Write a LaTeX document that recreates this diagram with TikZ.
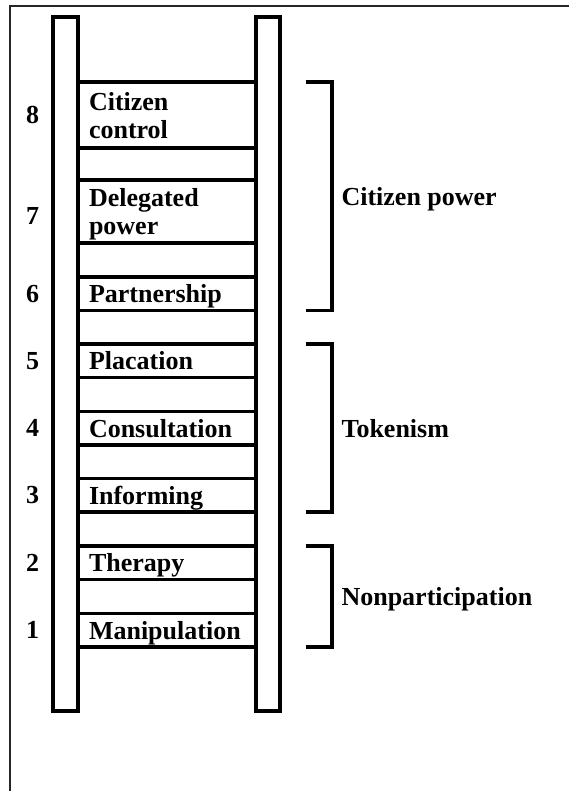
\documentclass[tikz,border=0pt]{standalone}
\usepackage{fontspec}
\setmainfont{Liberation Serif}
\usetikzlibrary{positioning,calc}

\begin{document}
\begin{tikzpicture}[
    x=1pt, y=1pt,
    node distance=33.8pt,
    frame/.style={line width=1.5pt, black!85},
    rail/.style={draw, line width=4pt},
    stepbox/.style={draw, rectangle, line width=3.5pt, outer sep=0pt, text width=156pt, inner xsep=11pt, inner ysep=0pt,
        minimum height=33.5pt, align=left, text depth=0pt, font=\bfseries\fontsize{26}{28}\selectfont},
    num/.style={font=\bfseries\fontsize{26}{28}\selectfont},
    bracket/.style={line width=3.5pt},
    group/.style={anchor=west, xshift=6pt, text depth=0pt, font=\bfseries\fontsize{26}{28}\selectfont}
]
\useasboundingbox (0,0) rectangle (568,-791);

% Rahmen
\draw[frame] (575,-6) -- (10,-6) -- (10,-800);

% Sprossen
\node[stepbox, minimum height=66pt, text depth=28pt, anchor=north west] (s8) at (78,-82) {Citizen\\control};
\node[stepbox, minimum height=63pt, text depth=28pt, below=32pt of s8] (s7) {Delegated\\power};
\node[stepbox, below=of s7] (s6) {Partnership};
\node[stepbox, below=of s6] (s5) {Placation};
\node[stepbox, below=of s5] (s4) {Consultation};
\node[stepbox, below=of s4] (s3) {Informing};
\node[stepbox, below=of s3] (s2) {Therapy};
\node[stepbox, below=of s2] (s1) {Manipulation};

% Holme
\draw[rail] (53,-17) rectangle (78,-711);
\draw[rail] (256,-17) rectangle (280,-711);

% Stufennummern
\coordinate (nx) at (32.5,0);
\node[num] (n8) at (s8.west -| nx) {8};
\node[num, yshift=-4pt] (n7) at (s7.west -| nx) {7};
\node[num] (n6) at (s6.west -| nx) {6};
\node[num] (n5) at (s5.west -| nx) {5};
\node[num] (n4) at (s4.west -| nx) {4};
\node[num] (n3) at (s3.west -| nx) {3};
\node[num] (n2) at (s2.west -| nx) {2};
\node[num] (n1) at (s1.west -| nx) {1};

% Klammern
\coordinate (bt) at (306,0);
\coordinate (bx) at (332,0);
\draw[bracket] (s8.north -| bt) -- (s8.north -| bx) -- (s6.south -| bx) -- (s6.south -| bt);
\draw[bracket] (s5.north -| bt) -- (s5.north -| bx) -- (s3.south -| bx) -- (s3.south -| bt);
\draw[bracket] (s2.north -| bt) -- (s2.north -| bx) -- (s1.south -| bx) -- (s1.south -| bt);

\node[group] (power) at ($(s8.north -| bx)!0.5!(s6.south -| bx)$) {Citizen power};
\node[group] (token) at ($(s5.north -| bx)!0.5!(s3.south -| bx)$) {Tokenism};
\node[group] (nonpart) at ($(s2.north -| bx)!0.5!(s1.south -| bx)$) {Nonparticipation};

\end{tikzpicture}
\end{document}
